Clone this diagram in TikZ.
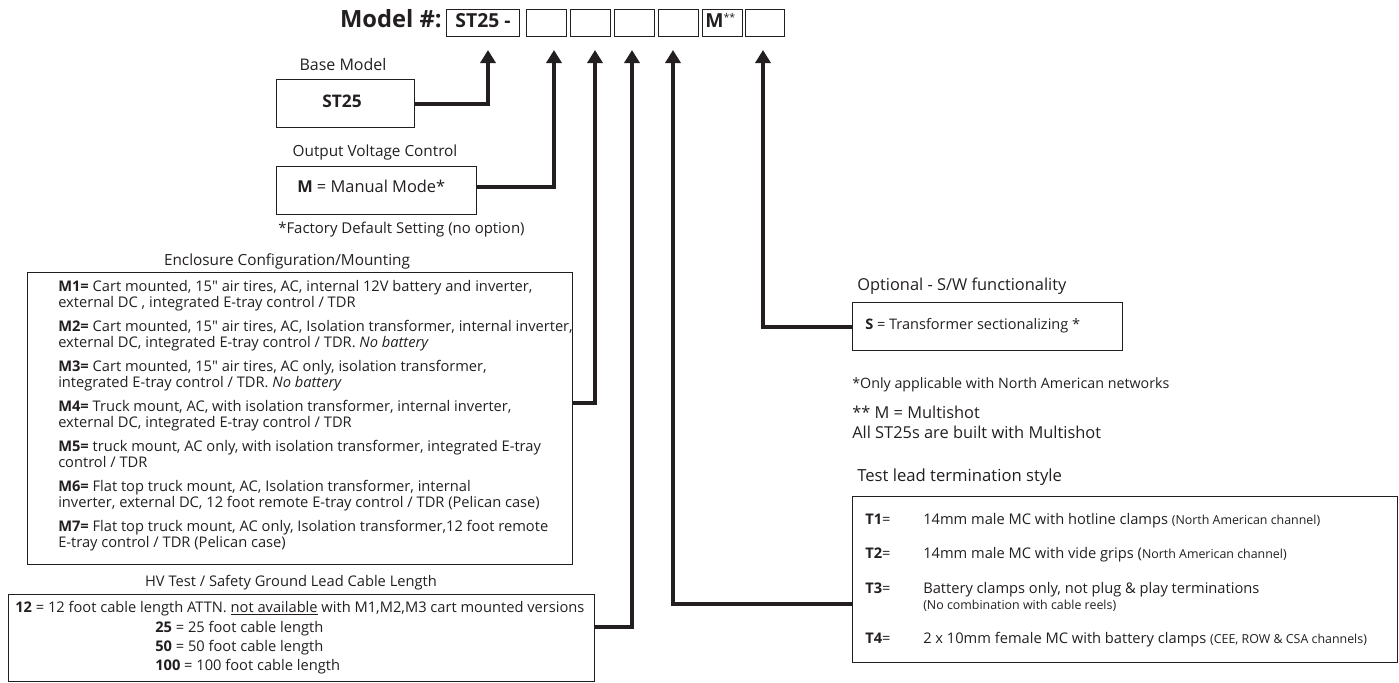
\documentclass[tikz,border=0pt]{standalone}
\usepackage{fontspec}
\setmainfont{Open Sans}
\newfontfamily\plainfont{Open Sans}[Ligatures=TeXReset]
\usetikzlibrary{arrows.meta}
\definecolor{ink}{HTML}{231F20}
\newcommand\fsz[1]{\fontsize{#1}{#1}\selectfont}
\newcommand\inch{{\plainfont\symbol{34}}}
\begin{document}
\begin{tikzpicture}[x=0.75pt,y=-0.75pt,
  box/.style={draw=ink,line width=1.1pt,inner sep=0pt,anchor=north west},
  hbox/.style={box,minimum width=30pt,minimum height=20.25pt},
  conn/.style={draw=ink,line width=3pt,line join=miter,-{Triangle[length=9.75pt,width=11.25pt]}},
  txt/.style={inner sep=0pt,anchor=mid west,text=ink,font=\fsz{11}},
  ctxt/.style={txt,anchor=mid}]
\useasboundingbox (0,0) rectangle (1399,682);

% header
\node[txt,anchor=mid east,font=\fsz{17.8}\bfseries] (model) at (442,24) {Model \#:};
\node[hbox,minimum width=54.75pt] (h1) at (446,9) {};
\node[ctxt,font=\fsz{14.5}\bfseries] (h1t) at (483,24) {ST25 -};
\node[hbox] (h2) at (526,9) {};
\node[hbox] (h3) at (570,9) {};
\node[hbox] (h4) at (614,9) {};
\node[hbox] (h5) at (658,9) {};
\node[hbox] (h6) at (702,9) {};
\node[txt,font=\fsz{14.5}\bfseries] (h6t) at (705,24) {M\raisebox{0.55ex}{\fsz{8}\mdseries **}};
\node[hbox,minimum width=29.25pt] (h7) at (745,9) {};

\coordinate (t1) at (488,50);
\coordinate (t2) at (554,50);
\coordinate (t3) at (595,50);
\coordinate (t4) at (632,50);
\coordinate (t5) at (673,50);
\coordinate (t6) at (763,50);

% base model
\node[ctxt,font=\fsz{12}] (basel) at (343,67) {Base Model};
\node[box,minimum width=103.5pt,minimum height=36pt] (base) at (276,79) {};
\node[ctxt,font=\fsz{13}\bfseries] (baset) at (342,104) {ST25};

% output voltage control
\node[ctxt,font=\fsz{11.5}] (ovcl) at (375,153) {Output Voltage Control};
\node[box,minimum width=150pt,minimum height=36pt] (ovc) at (276,166) {};
\node[txt,font=\fsz{12.3}] (ovct) at (297,189) {\textbf{M} = Manual Mode*};
\node[txt,font=\fsz{11.2}] (fact) at (278,230) {*Factory Default Setting (no option)};

% enclosure
\node[ctxt,font=\fsz{11.5}] (encll) at (287,262) {Enclosure Configuration/Mounting};
\node[box,minimum width=408.75pt,minimum height=219pt] (encl) at (27,272) {};
\node[txt] (m1a) at (58,288) {\textbf{M1=} Cart mounted, 15\inch{} air tires, AC, internal 12V battery and inverter,};
\node[txt] (m1b) at (58,303.5) {external DC , integrated E-tray control / TDR};
\node[txt] (m2a) at (58,328) {\textbf{M2=} Cart mounted, 15\inch{} air tires, AC, Isolation transformer, internal inverter,};
\node[txt] (m2b) at (58,343.5) {external DC, integrated E-tray control / TDR. \textit{No battery}};
\node[txt] (m3a) at (58,368) {\textbf{M3=} Cart mounted, 15\inch{} air tires, AC only, isolation transformer,};
\node[txt] (m3b) at (58,383.5) {integrated E-tray control / TDR. \textit{No battery}};
\node[txt] (m4a) at (58,408) {\textbf{M4=} Truck mount, AC, with isolation transformer, internal inverter,};
\node[txt] (m4b) at (58,423.5) {external DC, integrated E-tray control / TDR};
\node[txt] (m5a) at (58,448) {\textbf{M5=} truck mount, AC only, with isolation transformer, integrated E-tray};
\node[txt] (m5b) at (58,463.5) {control / TDR};
\node[txt] (m6a) at (58,488) {\textbf{M6=} Flat top truck mount, AC, Isolation transformer, internal};
\node[txt] (m6b) at (58,503.5) {inverter, external DC, 12 foot remote E-tray control / TDR (Pelican case)};
\node[txt] (m7a) at (58,528) {\textbf{M7=} Flat top truck mount, AC only, Isolation transformer,12 foot remote};
\node[txt] (m7b) at (58,543.5) {E-tray control / TDR (Pelican case)};

% HV cable length
\node[ctxt,font=\fsz{11}] (hvl) at (291,583) {HV Test / Safety Ground Lead Cable Length};
\node[box,minimum width=439.5pt,minimum height=65.25pt] (hv) at (8,594) {};
\node[txt] (hv1) at (15,609) {\textbf{12} = 12 foot cable length ATTN. \underline{not available} with M1,M2,M3 cart mounted versions};
\node[txt] (hv2) at (155,628.5) {\textbf{25} = 25 foot cable length};
\node[txt] (hv3) at (155,648) {\textbf{50} = 50 foot cable length};
\node[txt] (hv4) at (155,667) {\textbf{100} = 100 foot cable length};

% optional
\node[txt,font=\fsz{12.3}] (optl) at (857,287) {Optional - S/W functionality};
\node[box,minimum width=202.5pt,minimum height=36pt] (opt) at (852,302) {};
\node[txt,font=\fsz{10.9}] (optt) at (865,326) {\textbf{S} = Transformer sectionalizing *};
\node[txt,font=\fsz{10.7}] (note1) at (852,385) {*Only applicable with North American networks};
\node[txt,font=\fsz{12.3}] (note2) at (852,415) {** M = Multishot};
\node[txt,font=\fsz{12.3}] (note3) at (852,435) {All ST25s are built with Multishot};

% test lead
\node[txt,font=\fsz{12.5}] (testl) at (857,478) {Test lead termination style};
\node[box,minimum width=408.75pt,minimum height=124.5pt] (test) at (852,496) {};
\node[txt] (t1l) at (865,521) {\textbf{T1}=};
\node[txt] (t1d) at (923,521) {14mm male MC with hotline clamps {\fsz{9.3}(North American channel)}};
\node[txt] (t2l) at (865,555) {\textbf{T2}=};
\node[txt] (t2d) at (923,555) {14mm male MC with vide grips ({\fsz{9.3}North American channel)}};
\node[txt] (t3l) at (865,590) {\textbf{T3}=};
\node[txt] (t3d) at (923,590) {Battery clamps only, not plug \& play terminations};
\node[txt,font=\fsz{9.3}] (t3e) at (923,606) {(No combination with cable reels)};
\node[txt] (t4l) at (865,640) {\textbf{T4}=};
\node[txt] (t4d) at (923,640) {2 x 10mm female MC with battery clamps {\fsz{9.3}(CEE, ROW \& CSA channels)}};

% connectors
\coordinate (e2) at ([yshift=3pt]ovc.east);
\coordinate (e3) at ([yshift=12pt]encl.east);
\coordinate (e4) at ([yshift=8.6pt]hv.east);
\coordinate (e5) at ([yshift=-18pt]test.west);
\draw[conn] (base.east) -| (t1);
\draw[conn] (e2) -| (t2);
\draw[conn] (e3) -| (t3);
\draw[conn] (e4) -| (t4);
\draw[conn] (e5) -| (t5);
\draw[conn] (opt.west) -| (t6);
\end{tikzpicture}
\end{document}
